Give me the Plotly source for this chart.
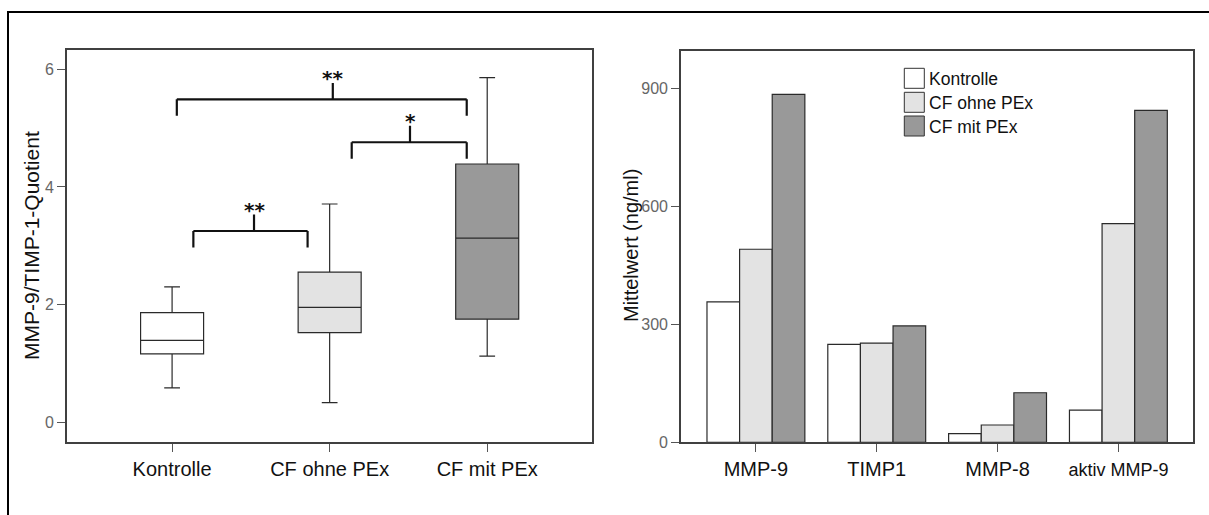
import plotly.graph_objects as go

# ---------------- data ----------------
groups = ["Kontrolle", "CF ohne PEx", "CF mit PEx"]
box_lowerfence = [0.58, 0.33, 1.12]
box_q1 = [1.16, 1.52, 1.75]
box_median = [1.39, 1.95, 3.13]
box_q3 = [1.86, 2.55, 4.39]
box_upperfence = [2.30, 3.71, 5.86]

bar_categories = ["MMP-9", "TIMP1", "MMP-8", "aktiv MMP-9"]
kontrolle_means = [357, 249, 22, 82]
cf_ohne_means = [491, 252, 44, 556]
cf_mit_means = [885, 296, 126, 844]

left_yticks = [0, 2, 4, 6]
right_yticks = [0, 300, 600, 900]

# significance brackets: (x_start, x_end, y, tick_x, label)
brackets = [
    (0.03, 1.87, 5.49, 1.02, "**"),
    (1.14, 1.87, 4.76, 1.51, "*"),
    (0.135, 0.86, 3.25, 0.52, "**"),
]

# ---------------- styling ----------------
W, H = 1209, 515
FONT = "Liberation Sans, Arial, sans-serif"
fills = ["#ffffff", "#e3e3e3", "#999999"]
edge = "#2a2a2a"


def px(x):
    return x / W


def py(y):
    return 1 - y / H


fig = go.Figure()

# box plots (left)
for i, g in enumerate(groups):
    fig.add_trace(go.Box(
        x=[g], q1=[box_q1[i]], median=[box_median[i]], q3=[box_q3[i]],
        lowerfence=[box_lowerfence[i]], upperfence=[box_upperfence[i]],
        fillcolor=fills[i], line=dict(color=edge, width=1.2),
        width=0.4, whiskerwidth=0.25, boxpoints=False,
        xaxis="x", yaxis="y", showlegend=False, hoverinfo="skip", name=g,
    ))

# bars (right)
series = [kontrolle_means, cf_ohne_means, cf_mit_means]
for i, g in enumerate(groups):
    fig.add_trace(go.Bar(
        x=bar_categories, y=series[i], name=g,
        marker=dict(color=fills[i], line=dict(color=edge, width=1.2)),
        xaxis="x2", yaxis="y2", showlegend=False, hoverinfo="skip",
    ))

shapes = []
annotations = []

# brackets
leg = 0.28
for (x0, x1, y, tx, lab) in brackets:
    line = dict(color="#111111", width=2.2)
    common = dict(type="line", xref="x", yref="y", line=line, opacity=1, layer="above")
    shapes.append(dict(x0=x0, x1=x1, y0=y, y1=y, **common))
    shapes.append(dict(x0=x0, x1=x0, y0=y, y1=y - leg, **common))
    shapes.append(dict(x0=x1, x1=x1, y0=y, y1=y - leg, **common))
    shapes.append(dict(x0=tx, x1=tx, y0=y, y1=y + leg, **common))
    annotations.append(dict(xref="x", yref="y", x=tx, y=y + leg + 0.2, text="<b>" + lab + "</b>",
                            showarrow=False, yshift=-7,
                            font=dict(family="DejaVu Sans, sans-serif", size=20, color="#111111")))

# outer frame
shapes.append(dict(type="rect", xref="paper", yref="paper",
                   x0=px(8), x1=1.02, y0=-0.02, y1=py(12), opacity=1,
                   fillcolor="rgba(0,0,0,0)", line=dict(color="#000000", width=2)))

# custom legend
leg_x0 = 904.3
leg_rows = [68.3, 92.3, 116.0]
for i, g in enumerate(groups):
    y0 = leg_rows[i]
    shapes.append(dict(type="rect", xref="paper", yref="paper", opacity=1, layer="above",
                       x0=px(leg_x0), x1=px(leg_x0 + 20), y0=py(y0 + 20), y1=py(y0),
                       fillcolor=fills[i], line=dict(color="#333333", width=1)))
    annotations.append(dict(xref="paper", yref="paper", x=px(leg_x0 + 23), y=py(y0 + 11),
                            xanchor="left", yanchor="middle", showarrow=False, text=g,
                            font=dict(family=FONT, size=17.5, color="#111111")))

# axis titles
annotations.append(dict(xref="paper", yref="paper", x=px(31), y=py(246), text="MMP-9/TIMP-1-Quotient",
                        textangle=-90, showarrow=False, xanchor="center", yanchor="middle",
                        font=dict(family=FONT, size=21, color="#111111")))
annotations.append(dict(xref="paper", yref="paper", x=px(631), y=py(246), text="Mittelwert (ng/ml)",
                        textangle=-90, showarrow=False, xanchor="center", yanchor="middle",
                        font=dict(family=FONT, size=20, color="#111111")))

axis_common = dict(showgrid=False, zeroline=False, showline=True, linecolor="#404040",
                   linewidth=1.6, mirror=True, ticks="outside", ticklen=8,
                   tickcolor="#555555", tickwidth=1, automargin=False)

bar_ticktext = [c if c != "aktiv MMP-9" else "<span style='font-size:18px'>aktiv MMP-9</span>"
                for c in bar_categories]

fig.update_layout(
    width=W, height=H, autosize=False,
    margin=dict(l=0, r=0, t=0, b=0, pad=0, autoexpand=False),
    paper_bgcolor="white", plot_bgcolor="white",
    boxmode="overlay", barmode="group", bargap=0.19, bargroupgap=0,
    font=dict(family=FONT),
    xaxis=dict(domain=[px(67), px(592.3)], anchor="y", type="category",
               categoryorder="array", categoryarray=groups,
               range=[-0.667, 2.667],
               tickfont=dict(family=FONT, size=20, color="#111111"), **axis_common),
    yaxis=dict(domain=[py(442.3), py(50)], anchor="x", range=[-0.345, 6.33],
               tickvals=left_yticks, ticktext=[str(v) for v in left_yticks],
               tickfont=dict(family=FONT, size=16, color="#666666"), **axis_common),
    xaxis2=dict(domain=[px(681), px(1193.3)], anchor="y2", type="category",
                categoryorder="array", categoryarray=bar_categories,
                tickvals=bar_categories, ticktext=bar_ticktext,
                range=[-0.62, 3.62],
                tickfont=dict(family=FONT, size=20, color="#111111"), **axis_common),
    yaxis2=dict(domain=[py(442.3), py(50.7)], anchor="x2", range=[0, 996],
                tickvals=right_yticks, ticktext=[str(v) for v in right_yticks],
                tickfont=dict(family=FONT, size=16, color="#666666"), **axis_common),
    shapes=shapes, annotations=annotations,
)

page_css = ("var s='margin:0;padding:0;overflow:hidden;height:515px;width:1209px;';"
            "document.documentElement.style.cssText=s;document.body.style.cssText=s;")
fig.write_html("out.html", config=dict(displayModeBar=False), post_script=page_css)
